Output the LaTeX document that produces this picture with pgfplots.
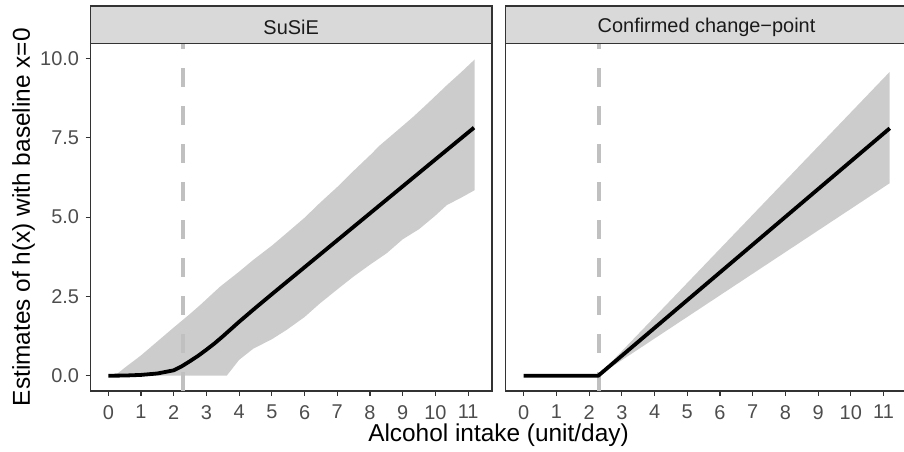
\documentclass[border=0pt]{standalone}
\usepackage{pgfplots}
\pgfplotsset{compat=1.18}
\usepgfplotslibrary{fillbetween}
\usepackage{fontspec}
\setmainfont{Liberation Sans}
\definecolor{bandgray}{HTML}{CCCCCC}
\definecolor{vgray}{HTML}{C0C0C0}
\definecolor{framec}{HTML}{333333}
\definecolor{ticklab}{HTML}{4D4D4D}
\definecolor{stripfill}{HTML}{D9D9D9}
\definecolor{striptext}{HTML}{1A1A1A}
\pgfplotsset{
  panel/.style={
    scale only axis, width=401.7bp, height=347.7bp,
    anchor=south west,
    xmin=-0.55, xmax=11.73, ymin=-0.482, ymax=10.48,
    axis line style={framec, line width=1.1bp},
    tick align=outside, xtick pos=bottom, ytick pos=left,
    major tick length=4.8bp,
    tick style={framec, line width=1.1bp},
    xtick={0,...,11},
    xticklabels={0,1,2,3,4,5,6,7,8,9,10,11},
    xticklabel style={font=\fontsize{20}{24}\selectfont, text=ticklab, anchor=north, inner sep=0pt, yshift=-9.2bp},
    yticklabel style={font=\fontsize{20}{24}\selectfont, text=ticklab, anchor=east, inner sep=0pt, xshift=-6.3bp},
  }
}
\begin{document}
\begin{tikzpicture}
% ---- left panel: SuSiE
\begin{axis}[panel, name=L, at={(90.3bp,61bp)},
  ytick={0,2.5,5,7.5,10}, yticklabels={0.0,2.5,5.0,7.5,10.0}]
\addplot[name path=lu, draw=none] coordinates {
(0.2,0) (0.5,0.25) (1,0.64) (1.5,1.08) (2,1.52) (2.5,1.95) (2.81,2.23) (3.42,2.81)
(4,3.28) (4.43,3.65) (5,4.10) (5.4,4.45) (6,4.98) (6.47,5.45) (7,5.95) (7.49,6.45)
(8,6.95) (8.31,7.27) (8.8,7.70) (9.33,8.17) (9.8,8.62) (10.35,9.16) (10.8,9.58) (11.2,9.97)};
\addplot[name path=ll, draw=none] coordinates {
(0.2,0) (1,0) (2,0) (3,0) (3.62,0) (4.0,0.50) (4.43,0.85) (5.0,1.15) (5.46,1.45)
(6.0,1.85) (6.47,2.28) (7.0,2.72) (7.49,3.12) (8.0,3.50) (8.51,3.86) (9.0,4.30)
(9.5,4.62) (10.0,5.05) (10.35,5.38) (10.8,5.62) (11.2,5.85)};
\addplot[bandgray, draw=none] fill between[of=lu and ll];
\addplot[vgray, line width=4bp, dash pattern=on 19bp off 19bp] coordinates {(2.28,-0.482) (2.28,10.48)};
\addplot[black, line width=3.8bp, line join=round] coordinates {
(0,0) (0.5,0.005) (1,0.025) (1.5,0.07) (2,0.17) (2.25,0.30) (2.5,0.46) (2.75,0.63)
(3,0.82) (3.25,1.02) (3.5,1.24) (3.75,1.47) (4,1.70) (4.5,2.14) (5,2.57) (6,3.42)
(7,4.27) (8,5.12) (9,5.97) (10,6.82) (11.18,7.82)};
\end{axis}
% ---- right panel: Confirmed change-point
\begin{axis}[panel, name=R, at={(505.7bp,61bp)}, ytick=\empty]
\addplot[name path=ru, draw=none] coordinates {(2.28,0) (11.19,9.58)};
\addplot[name path=rl, draw=none] coordinates {(2.28,0) (11.19,6.07)};
\addplot[bandgray, draw=none] fill between[of=ru and rl];
\addplot[vgray, line width=4bp, dash pattern=on 19bp off 19bp] coordinates {(2.29,-0.482) (2.29,10.48)};
\addplot[black, line width=3.8bp, line join=round] coordinates {(0,0) (2.28,0) (11.19,7.80)};
\end{axis}
% strips
\draw[framec, fill=stripfill, line width=1.1bp] (L.north west) rectangle ([yshift=37.3bp]L.north east);
\draw[framec, fill=stripfill, line width=1.1bp] (R.north west) rectangle ([yshift=37.3bp]R.north east);
\node[font=\fontsize{20}{24}\selectfont, text=striptext] at ([yshift=16.3bp]L.north) {SuSiE};
\node[font=\fontsize{20}{24}\selectfont, text=striptext] at ([yshift=16.3bp]R.north) {Confirmed change−point};
% axis titles
\node[font=\fontsize{24.5}{29}\selectfont, anchor=base, inner sep=0pt] at (498.5bp,11bp) {Alcohol intake (unit/day)};
\node[font=\fontsize{24.5}{29}\selectfont, rotate=90, inner sep=0pt] at (23.5bp,234.85bp) {Estimates of h(x) with baseline x=0};
\pgfresetboundingbox
\path[use as bounding box] (0,0) rectangle (904bp,452bp);
\end{tikzpicture}
\end{document}
